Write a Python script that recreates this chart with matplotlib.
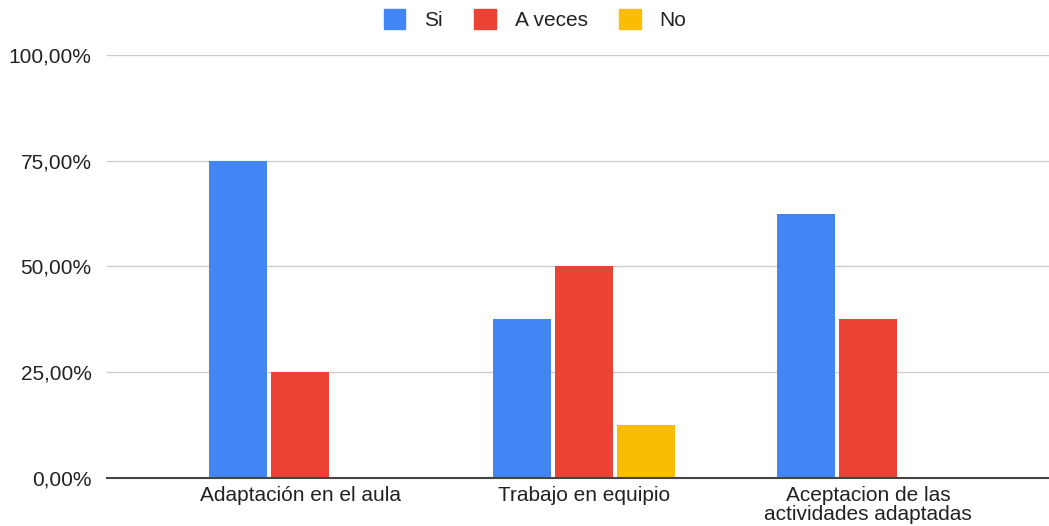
import numpy as np
import matplotlib.pyplot as plt
from matplotlib.patches import Patch
from matplotlib.ticker import FuncFormatter

plt.rcParams['font.family'] = ['Liberation Sans', 'DejaVu Sans']

categories = ['Adaptación en el aula', 'Trabajo en equipio', 'Aceptacion de las\nactividades adaptadas']
series_names = ['Si', 'A veces', 'No']
si = [75.0, 37.5, 62.5]
a_veces = [25.0, 50.0, 37.5]
no = [0.0, 12.5, 0.0]
colors = ['#4285F4', '#EA4335', '#FBBC04']

fig = plt.figure(figsize=(10.49, 5.26), dpi=100)
ax = fig.add_axes([0.102, 0.0913, 0.898, 0.8041])

x = np.arange(len(categories))
width = 0.204
step = 0.218
for i, (vals, c) in enumerate(zip([si, a_veces, no], colors)):
    ax.bar(x + (i - 1) * step, vals, width=width, color=c, zorder=3)

ax.set_xlim(-0.68, 2.637)
ax.set_ylim(0, 100)
ax.set_yticks([0, 25, 50, 75, 100])
ax.yaxis.set_major_formatter(FuncFormatter(lambda v, p: f'{v:.2f}'.replace('.', ',') + '%'))
ax.grid(axis='y', color='#cccccc', linewidth=1, zorder=0)
ax.set_xticks(x)
ax.set_xticklabels(categories, linespacing=0.98)

for s in ['top', 'right', 'left']:
    ax.spines[s].set_visible(False)
ax.spines['bottom'].set_color('#444444')
ax.spines['bottom'].set_linewidth(1.5)
ax.spines['bottom'].set_zorder(4)
ax.tick_params(axis='both', length=0, labelsize=15, colors='#222222')
ax.tick_params(axis='y', pad=11)
ax.tick_params(axis='x', pad=6)

handles = [Patch(facecolor=c, edgecolor=c) for c in colors]
fig.legend(handles, series_names, loc='upper center', bbox_to_anchor=(0.51, 1.018),
           ncol=3, frameon=False, fontsize=15, handlelength=1.05, handleheight=1.05,
           columnspacing=1.5, handletextpad=0.9, labelcolor='#222222')

fig.savefig('out.png', dpi=100, facecolor='white')
